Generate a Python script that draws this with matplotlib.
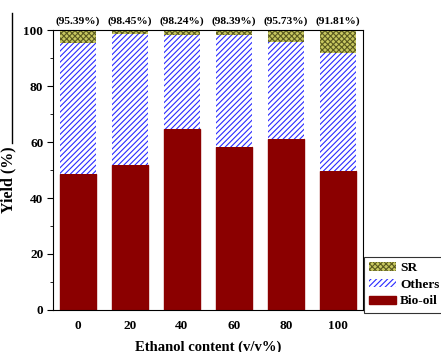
import numpy as np
import matplotlib
matplotlib.use('Agg')
import matplotlib.pyplot as plt
from matplotlib.ticker import MultipleLocator
from matplotlib.lines import Line2D

plt.rcParams['font.family'] = 'Liberation Serif'
plt.rcParams['font.weight'] = 'bold'
plt.rcParams['hatch.linewidth'] = 0.8

ethanol = ['0', '20', '40', '60', '80', '100']
bio_oil = [48.6, 51.8, 64.6, 58.2, 61.0, 49.6]
total = [95.39, 98.45, 98.24, 98.39, 95.73, 91.81]
others = [t - b for t, b in zip(total, bio_oil)]
sr = [100 - t for t in total]

fig = plt.figure(figsize=(4.41, 3.52), dpi=100)
ax = fig.add_axes([53/441, 1 - 310/352, 310/441, 280/352])

x = np.arange(len(ethanol))
w = 0.71
ax.bar(x, bio_oil, w, color='#8b0000', edgecolor='#8b0000', label='Bio-oil')
ax.bar(x, others, w, bottom=bio_oil, color='white', edgecolor='#2a2aff',
       hatch='//////', linewidth=0, label='Others')
ax.bar(x, sr, w, bottom=total, color='#c8c860', edgecolor='#5a5a20',
       hatch='xxxxxx', linewidth=0, label='SR')

for xi, t in zip(x, total):
    ax.text(xi, 101.5, '(%.2f%%)' % t, ha='center', va='bottom', fontsize=8.2,
            fontweight='bold')

ax.set_xlim(-0.48, 5.48)
ax.set_ylim(0, 100)
ax.set_xticks(x)
ax.set_xticklabels(ethanol)
ax.yaxis.set_major_locator(MultipleLocator(20))
ax.yaxis.set_minor_locator(MultipleLocator(10))
ax.tick_params(axis='x', length=0, labelsize=9.5, pad=7)
ax.tick_params(axis='y', which='major', length=4, labelsize=9.5, pad=3)
ax.tick_params(axis='y', which='minor', length=2)
for s in ax.spines.values():
    s.set_linewidth(0.8)

ax.set_xlabel('Ethanol content (v/v%)', fontsize=10.5, fontweight='bold', labelpad=6)
ax.set_ylabel('Yield (%)', fontsize=11.5, fontweight='bold')
ax.yaxis.set_label_coords(-0.118, 0.465)

h, l = ax.get_legend_handles_labels()
leg = ax.legend(h[::-1], l[::-1], loc='lower left', bbox_to_anchor=(1.003, -0.01),
                fontsize=9.6, frameon=True, fancybox=False, edgecolor='black',
                handlelength=2.0, handleheight=0.6, labelspacing=0.35,
                borderpad=0.4, handletextpad=0.3, borderaxespad=0)
leg.get_frame().set_linewidth(0.8)

# thin border line at the left edge of the picture
fig.add_artist(Line2D([12/441, 12/441], [1 - 13/352, 1 - 143/352],
                      color='black', linewidth=1, transform=fig.transFigure))

fig.savefig('out.png', dpi=100)
